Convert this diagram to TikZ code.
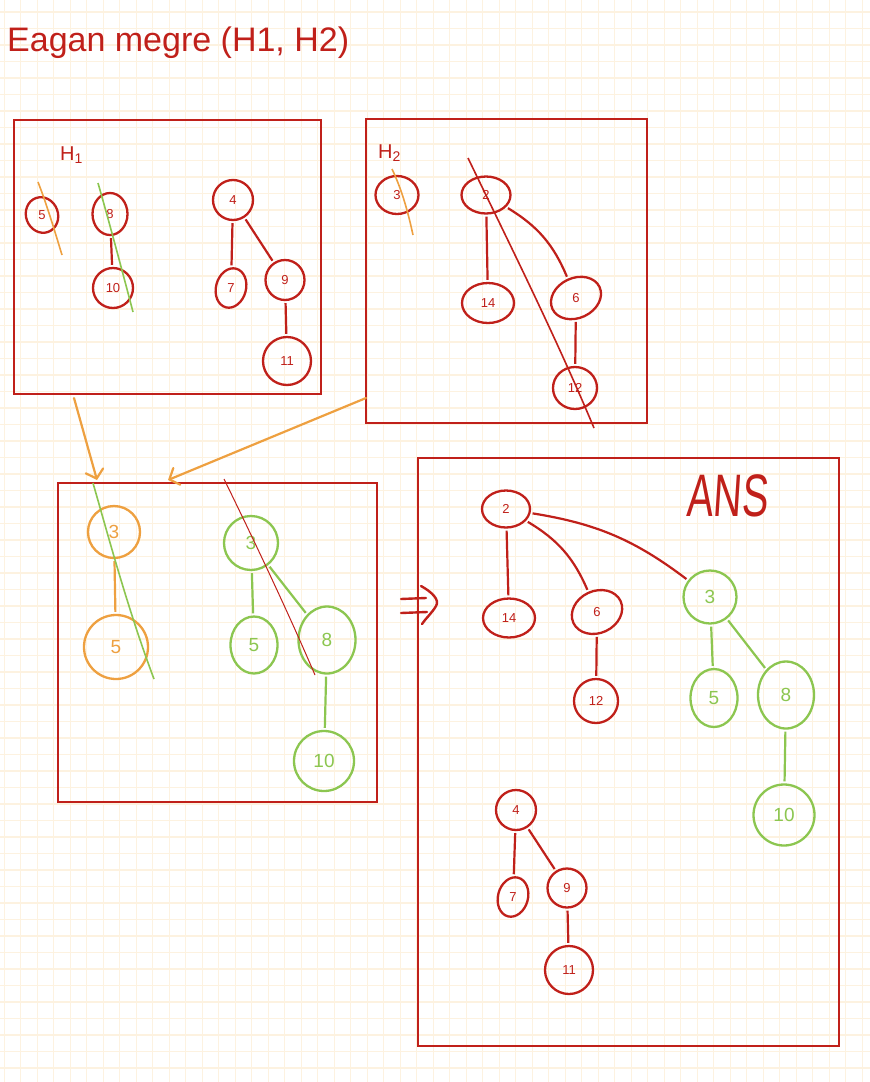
\documentclass[tikz,border=0pt]{standalone}
\usepackage{fontspec}
\setmainfont{Liberation Sans}
\usetikzlibrary{shapes.geometric,arrows.meta}
\definecolor{pred}{RGB}{192,32,26}
\definecolor{porange}{RGB}{238,160,64}
\definecolor{pgreen}{RGB}{140,198,80}
\definecolor{pgrid}{RGB}{253,242,224}
\tikzset{
  nd/.style={ellipse,inner sep=0pt,line width=2.3pt},
  sz/.style n args={2}{minimum width=#1,minimum height=#2},
  rn/.style={nd,draw=pred,text=pred,font=\fontsize{13}{13}\selectfont},
  gn/.style={nd,draw=pgreen,text=pgreen,font=\fontsize{19}{19}\selectfont},
  on/.style={nd,draw=porange,text=porange,font=\fontsize{19}{19}\selectfont},
  rt/.style={text=pred,font=\fontsize{13}{13}\selectfont},
  boxnode/.style={draw=pred,line width=2.5pt,rectangle,inner sep=0pt},
  re/.style={draw=pred,line width=2.2pt,shorten >=2pt,shorten <=2pt},
  ge/.style={draw=pgreen,line width=2.2pt,shorten >=2pt,shorten <=2pt},
  oe/.style={draw=porange,line width=2.2pt,shorten >=2pt,shorten <=2pt},
  arr/.style={draw=porange,line width=2.2pt,line cap=round,-{Straight Barb[length=8pt,width=18pt,line cap=round]}},
  strike/.style={line width=1.6pt},
}
\begin{document}
\begin{tikzpicture}[x=1pt,y=-1pt]
\useasboundingbox (0,0) rectangle (870,1082);
\fill[white] (0,0) rectangle (870,1082);
% grid
\foreach \i in {0,...,52} \draw[pgrid,line width=1.3pt] ({4.3+\i*16.5},0) -- ({4.3+\i*16.5},1082);
\foreach \j in {0,...,65} \draw[pgrid,line width=1.3pt] (0,{12+\j*16.5-16.5}) -- (870,{12+\j*16.5-16.5});

% title
\node[anchor=base west,text=pred,font=\fontsize{34}{34}\selectfont,inner sep=0pt] (title) at (7,51) {Eagan megre (H1, H2)};

% ---------------- H1 box
\node[boxnode,minimum width=307,minimum height=274] (H1box) at (167.5,257) {};
\node[anchor=base west,text=pred,font=\fontsize{20}{20}\selectfont,inner sep=0pt] (H1lab) at (60,160) {H\textsubscript{1}};
\node[rn,sz={32}{36},rotate=20] (a5) at (42,215) {};
\node[rt] (a5t) at (42,215) {5};
\node[rn,sz={35}{42}] (a8) at (110,214) {8};
\node[rn,sz={40}{40}] (a10) at (113,288) {10};
\node[rn,sz={40}{40}] (a4) at (233,200) {4};
\node[rn,sz={30}{40},rotate=-15] (a7) at (231,288) {};
\node[rt] (a7t) at (231,288) {7};
\node[rn,sz={39}{40}] (a9) at (285,280) {9};
\node[rn,sz={48}{48}] (a11) at (287,361) {11};
\draw[re] (a8) -- (a10);
\draw[re] (a4) -- (a7);
\draw[re] (a4) -- (a9);
\draw[re] (a9) -- (a11);
\draw[porange,strike] (38,182) .. controls (47,205) and (55,232) .. (62,255);
\draw[pgreen,strike] (98,183) .. controls (110,225) and (122,270) .. (133,312);

% ---------------- H2 box
\node[boxnode,minimum width=281,minimum height=304] (H2box) at (506.5,271) {};
\node[anchor=base west,text=pred,font=\fontsize{20}{20}\selectfont,inner sep=0pt] (H2lab) at (378,158) {H\textsubscript{2}};
\node[rn,sz={43}{38}] (b3) at (397,195) {3};
\node[rn,sz={49}{37}] (b2) at (486,195) {2};
\node[rn,sz={52}{40}] (b14) at (488,303) {14};
\node[rn,sz={52}{40},rotate=25] (b6) at (576,298) {};
\node[rt] (b6t) at (576,298) {6};
\node[rn,sz={44}{42}] (b12) at (575,388) {12};
\draw[re] (b2) -- (b14);
\draw[re] (b2) to[bend left=18] (b6);
\draw[re] (b6) -- (b12);
\draw[porange,strike] (392,169) .. controls (402,190) and (408,212) .. (413,235);
\draw[pred,strike] (468,158) .. controls (510,245) and (555,335) .. (594,428);

% ---------------- middle box
\node[boxnode,minimum width=319,minimum height=319] (Mbox) at (217.5,642.5) {};
\node[on,sz={52}{52}] (c3o) at (114,532) {3};
\node[on,sz={64}{64}] (c5o) at (116,647) {5};
\draw[oe] (c3o) -- (c5o);
\node[gn,sz={54}{54}] (c3g) at (251,543) {3};
\node[gn,sz={47}{57}] (c5g) at (254,645) {5};
\node[gn,sz={57}{67}] (c8g) at (327,640) {8};
\node[gn,sz={60}{60}] (c10g) at (324,761) {10};
\draw[ge] (c3g) -- (c5g);
\draw[ge] (c3g) -- (c8g);
\draw[ge] (c8g) -- (c10g);
\draw[pgreen,strike] (93,483) .. controls (108,535) and (128,610) .. (154,679);
\draw[pred,line width=1pt] (224,479) .. controls (248,528) and (285,605) .. (315,675);

% arrows
\coordinate (a1s) at (74,398);
\coordinate (a1e) at (97,480);
\coordinate (a2s) at (366,398);
\coordinate (a2e) at (168,480);
\draw[arr] (a1s) -- (a1e);
\draw[arr] (a2s) -- (a2e);

% implies sign
\draw[pred,line width=2.4pt,line cap=round] (401,599) -- (426,598);
\draw[pred,line width=2.4pt,line cap=round] (401,613) -- (427,612);
\draw[pred,line width=2.4pt,line cap=round,line join=round] (421,586) .. controls (432,592) and (440,600) .. (436,606) .. controls (432,613) and (426,618) .. (422,624);

% ---------------- ANS box
\node[boxnode,minimum width=421,minimum height=588] (Abox) at (628.5,752) {};
\node[text=pred,font=\fontsize{60}{60}\selectfont,inner sep=0pt,anchor=base west,xscale=0.66,xslant=0.1] (ans) at (686,516) {ANS};
\node[rn,sz={48}{37}] (d2) at (506,509) {2};
\node[rn,sz={52}{39}] (d14) at (509,618) {14};
\node[rn,sz={52}{42},rotate=25] (d6) at (597,612) {};
\node[rt] (d6t) at (597,612) {6};
\node[rn,sz={44}{44}] (d12) at (596,701) {12};
\node[gn,sz={53}{53}] (d3) at (710,597) {3};
\node[gn,sz={47}{58}] (d5) at (714,698) {5};
\node[gn,sz={56}{67}] (d8) at (786,695) {8};
\node[gn,sz={61}{61}] (d10) at (784,815) {10};
\draw[re] (d2) -- (d14);
\draw[re] (d2) to[bend left=18] (d6);
\draw[re] (d2) to[bend left=14] (d3);
\draw[re] (d6) -- (d12);
\draw[ge] (d3) -- (d5);
\draw[ge] (d3) -- (d8);
\draw[ge] (d8) -- (d10);
\node[rn,sz={40}{40}] (e4) at (516,810) {4};
\node[rn,sz={30}{40},rotate=-15] (e7) at (513,897) {};
\node[rt] (e7t) at (513,897) {7};
\node[rn,sz={39}{39}] (e9) at (567,888) {9};
\node[rn,sz={48}{48}] (e11) at (569,970) {11};
\draw[re] (e4) -- (e7);
\draw[re] (e4) -- (e9);
\draw[re] (e9) -- (e11);
\end{tikzpicture}
\end{document}
